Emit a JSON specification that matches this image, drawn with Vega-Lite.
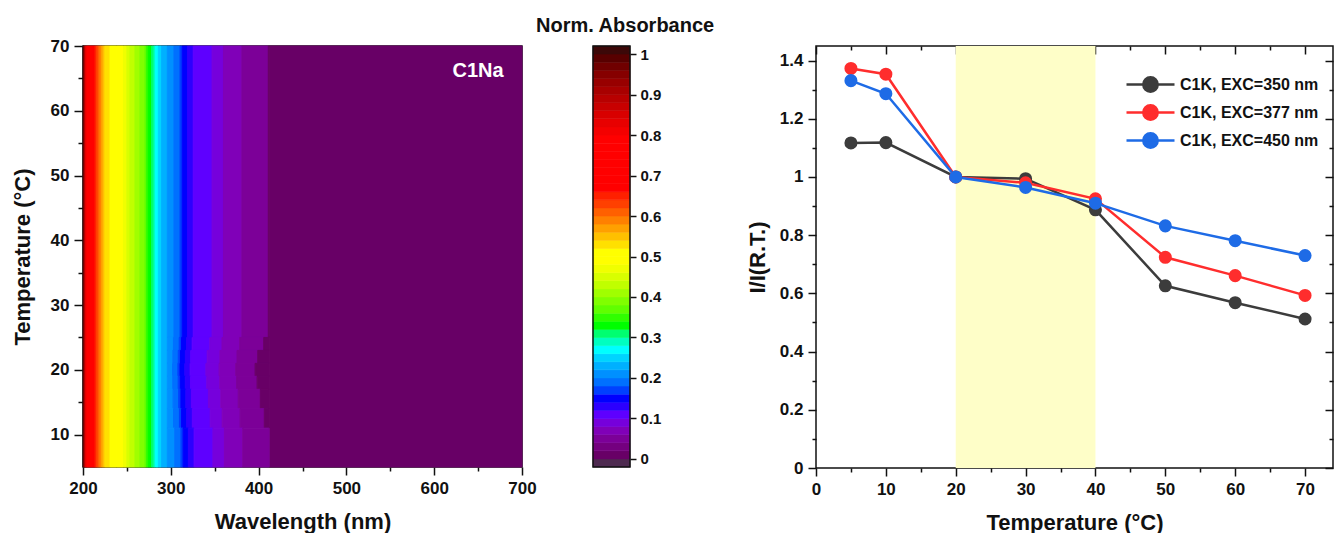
{
  "$schema": "https://vega.github.io/schema/vega-lite/v6.json",
  "padding": {"left": 10, "top": 16, "right": 0, "bottom": 0},
  "background": "white",
  "bounds": "flush",
  "spacing": 71,
  "resolve": {"scale": {"color": "independent"}, "legend": {"color": "independent"}},
  "config": {
    "font": "Liberation Sans",
    "view": {"stroke": "#111", "strokeWidth": 1.5},
    "axis": {
      "labelFont": "Liberation Sans", "labelFontWeight": "bold", "labelFontSize": 17, "labelColor": "#111", "labelFlush": false,
      "titleFont": "Liberation Sans", "titleFontWeight": "bold", "titleFontSize": 22, "titleColor": "#111",
      "tickColor": "#111", "tickWidth": 1.5, "domain": false, "grid": false, "labelPadding": 5
    }
  },
  "hconcat": [
    {
      "width": 439,
      "height": 421,
      "resolve": {"axis": {"x": "independent", "y": "independent"}},
      "layer": [
        {
          "data": {"values": [
            {"w":200,"w2":201,"t":5,"t2":70,"v":1.01},
            {"w":201,"w2":202,"t":5,"t2":70,"v":0.95},
            {"w":202,"w2":203,"t":5,"t2":70,"v":0.89},
            {"w":203,"w2":204.5,"t":5,"t2":70,"v":0.83},
            {"w":204.5,"w2":213.7,"t":5,"t2":70,"v":0.73},
            {"w":213.7,"w2":215.5,"t":5,"t2":70,"v":0.65},
            {"w":215.5,"w2":217.4,"t":5,"t2":70,"v":0.63},
            {"w":217.4,"w2":219.3,"t":5,"t2":70,"v":0.61},
            {"w":219.3,"w2":221.2,"t":5,"t2":70,"v":0.59},
            {"w":221.2,"w2":223,"t":5,"t2":70,"v":0.57},
            {"w":223,"w2":225,"t":5,"t2":70,"v":0.55},
            {"w":225,"w2":230.8,"t":5,"t2":70,"v":0.53},
            {"w":230.8,"w2":238,"t":5,"t2":70,"v":0.51},
            {"w":238,"w2":246,"t":5,"t2":70,"v":0.49},
            {"w":246,"w2":250,"t":5,"t2":70,"v":0.47},
            {"w":250,"w2":253.5,"t":5,"t2":70,"v":0.45},
            {"w":253.5,"w2":259.2,"t":5,"t2":70,"v":0.43},
            {"w":259.2,"w2":264.9,"t":5,"t2":70,"v":0.41},
            {"w":264.9,"w2":270.6,"t":5,"t2":70,"v":0.39},
            {"w":270.6,"w2":272.5,"t":5,"t2":70,"v":0.37},
            {"w":272.5,"w2":274.4,"t":5,"t2":70,"v":0.35},
            {"w":274.4,"w2":278.2,"t":5,"t2":70,"v":0.33},
            {"w":278.2,"w2":280.9,"t":5,"t2":70,"v":0.31},
            {"w":280.9,"w2":282.5,"t":5,"t2":70,"v":0.29},
            {"w":282.5,"w2":285.8,"t":5,"t2":70,"v":0.27},
            {"w":285.8,"w2":289.6,"t":5,"t2":70,"v":0.25},
            {"w":289.6,"w2":296,"t":5,"t2":70,"v":0.23},
            {"w":412,"w2":700,"t":5,"t2":70,"v":0.01},

            {"w":296,"w2":303.6,"t":25,"t2":70,"v":0.21},
            {"w":303.6,"w2":310.5,"t":25,"t2":70,"v":0.19},
            {"w":310.5,"w2":313,"t":25,"t2":70,"v":0.17},
            {"w":313,"w2":319,"t":25,"t2":70,"v":0.15},
            {"w":319,"w2":325.5,"t":25,"t2":70,"v":0.13},
            {"w":325.5,"w2":347,"t":25,"t2":70,"v":0.11},
            {"w":347,"w2":360,"t":25,"t2":70,"v":0.09},
            {"w":360,"w2":381,"t":25,"t2":70,"v":0.07},
            {"w":381,"w2":411,"t":25,"t2":70,"v":0.05},
            {"w":411,"w2":412,"t":25,"t2":70,"v":0.01},

            {"w":296,"w2":303,"t":23,"t2":25,"v":0.21},
            {"w":303,"w2":309.6,"t":23,"t2":25,"v":0.19},
            {"w":309.6,"w2":312.1,"t":23,"t2":25,"v":0.17},
            {"w":312.1,"w2":318,"t":23,"t2":25,"v":0.15},
            {"w":318,"w2":324.3,"t":23,"t2":25,"v":0.13},
            {"w":324.3,"w2":344.5,"t":23,"t2":25,"v":0.11},
            {"w":344.5,"w2":358.3,"t":23,"t2":25,"v":0.09},
            {"w":358.3,"w2":378.5,"t":23,"t2":25,"v":0.07},
            {"w":378.5,"w2":405.8,"t":23,"t2":25,"v":0.05},
            {"w":405.8,"w2":412,"t":23,"t2":25,"v":0.01},

            {"w":296,"w2":302.3,"t":21,"t2":23,"v":0.21},
            {"w":302.3,"w2":308.5,"t":21,"t2":23,"v":0.19},
            {"w":308.5,"w2":311,"t":21,"t2":23,"v":0.17},
            {"w":311,"w2":316.6,"t":21,"t2":23,"v":0.15},
            {"w":316.6,"w2":322.7,"t":21,"t2":23,"v":0.13},
            {"w":322.7,"w2":341.4,"t":21,"t2":23,"v":0.11},
            {"w":341.4,"w2":356,"t":21,"t2":23,"v":0.09},
            {"w":356,"w2":375.4,"t":21,"t2":23,"v":0.07},
            {"w":375.4,"w2":399,"t":21,"t2":23,"v":0.05},
            {"w":399,"w2":412,"t":21,"t2":23,"v":0.01},

            {"w":296,"w2":302,"t":19,"t2":21,"v":0.21},
            {"w":302,"w2":308,"t":19,"t2":21,"v":0.19},
            {"w":308,"w2":310.5,"t":19,"t2":21,"v":0.17},
            {"w":310.5,"w2":316,"t":19,"t2":21,"v":0.15},
            {"w":316,"w2":322,"t":19,"t2":21,"v":0.13},
            {"w":322,"w2":340,"t":19,"t2":21,"v":0.11},
            {"w":340,"w2":355,"t":19,"t2":21,"v":0.09},
            {"w":355,"w2":374,"t":19,"t2":21,"v":0.07},
            {"w":374,"w2":396,"t":19,"t2":21,"v":0.05},
            {"w":396,"w2":412,"t":19,"t2":21,"v":0.01},

            {"w":296,"w2":302.2,"t":17,"t2":19,"v":0.21},
            {"w":302.2,"w2":308.4,"t":17,"t2":19,"v":0.19},
            {"w":308.4,"w2":310.9,"t":17,"t2":19,"v":0.17},
            {"w":310.9,"w2":316.5,"t":17,"t2":19,"v":0.15},
            {"w":316.5,"w2":322.5,"t":17,"t2":19,"v":0.13},
            {"w":322.5,"w2":341,"t":17,"t2":19,"v":0.11},
            {"w":341,"w2":355.8,"t":17,"t2":19,"v":0.09},
            {"w":355.8,"w2":375,"t":17,"t2":19,"v":0.07},
            {"w":375,"w2":398.3,"t":17,"t2":19,"v":0.05},
            {"w":398.3,"w2":412,"t":17,"t2":19,"v":0.01},

            {"w":296,"w2":302.6,"t":14,"t2":17,"v":0.21},
            {"w":302.6,"w2":309,"t":14,"t2":17,"v":0.19},
            {"w":309,"w2":311.5,"t":14,"t2":17,"v":0.17},
            {"w":311.5,"w2":317.2,"t":14,"t2":17,"v":0.15},
            {"w":317.2,"w2":323.4,"t":14,"t2":17,"v":0.13},
            {"w":323.4,"w2":342.8,"t":14,"t2":17,"v":0.11},
            {"w":342.8,"w2":357,"t":14,"t2":17,"v":0.09},
            {"w":357,"w2":376.8,"t":14,"t2":17,"v":0.07},
            {"w":376.8,"w2":402,"t":14,"t2":17,"v":0.05},
            {"w":402,"w2":412,"t":14,"t2":17,"v":0.01},

            {"w":296,"w2":303.1,"t":11,"t2":14,"v":0.21},
            {"w":303.1,"w2":309.8,"t":11,"t2":14,"v":0.19},
            {"w":309.8,"w2":312.3,"t":11,"t2":14,"v":0.17},
            {"w":312.3,"w2":318.1,"t":11,"t2":14,"v":0.15},
            {"w":318.1,"w2":324.5,"t":11,"t2":14,"v":0.13},
            {"w":324.5,"w2":344.9,"t":11,"t2":14,"v":0.11},
            {"w":344.9,"w2":358.5,"t":11,"t2":14,"v":0.09},
            {"w":358.5,"w2":378.9,"t":11,"t2":14,"v":0.07},
            {"w":378.9,"w2":406.5,"t":11,"t2":14,"v":0.05},
            {"w":406.5,"w2":412,"t":11,"t2":14,"v":0.01},

            {"w":296,"w2":304.5,"t":5,"t2":11,"v":0.21},
            {"w":304.5,"w2":311.5,"t":5,"t2":11,"v":0.19},
            {"w":311.5,"w2":314,"t":5,"t2":11,"v":0.17},
            {"w":314,"w2":320,"t":5,"t2":11,"v":0.15},
            {"w":320,"w2":326.5,"t":5,"t2":11,"v":0.13},
            {"w":326.5,"w2":348,"t":5,"t2":11,"v":0.11},
            {"w":348,"w2":361,"t":5,"t2":11,"v":0.09},
            {"w":361,"w2":382,"t":5,"t2":11,"v":0.07},
            {"w":382,"w2":412,"t":5,"t2":11,"v":0.05}
          ]},
          "mark": {"type": "rect", "strokeWidth": 1},
          "encoding": {
            "x": {"field": "w", "type": "quantitative",
              "scale": {"domain": [200, 700], "nice": false, "zero": false},
              "axis": {"values": [200,250,300,350,400,450,500,550,600,650,700],
                "labelExpr": "datum.value % 100 === 0 ? datum.label : ''",
                "tickSize": {"condition": {"test": "datum.value % 100 === 0", "value": 8}, "value": 4},
                "title": "Wavelength (nm)", "titlePadding": 15}},
            "x2": {"field": "w2"},
            "y": {"field": "t", "type": "quantitative",
              "scale": {"domain": [5, 70], "nice": false, "zero": false},
              "axis": {"values": [10,15,20,25,30,35,40,45,50,55,60,65,70],
                "labelExpr": "datum.value % 10 === 0 ? datum.label : ''",
                "tickSize": {"condition": {"test": "datum.value % 10 === 0", "value": 9}, "value": 5},
                "title": "Temperature (°C)", "titlePadding": 16}},
            "y2": {"field": "t2"},
            "fill": {"field": "v", "type": "quantitative", "legend": null,
              "scale": {"type": "threshold",
                "domain": [0,0.02,0.04,0.06,0.08,0.1,0.12,0.14,0.16,0.18,0.2,0.22,0.24,0.26,0.28,0.3,0.32,0.34,0.36,0.38,0.4,0.42,0.44,0.46,0.48,0.5,0.52,0.54,0.56,0.58,0.6,0.62,0.64,0.66,0.68,0.7,0.72,0.74,0.76,0.78,0.8,0.82,0.84,0.86,0.88,0.9,0.92,0.94,0.96,0.98,1],
                "range": ["#4e2a50","#680066","#74007f","#7c0098","#8000b8","#7600dc","#5e00ff","#2c00ff","#0000ff","#0040ff","#0070ff","#0090ff","#00b0ff","#00d4ff","#00ffff","#00ffc0","#00ff70","#00ff00","#30ff00","#60ff00","#80ff00","#a0ff00","#c0ff00","#d8ff00","#f0ff00","#ffff00","#ffff00","#ffe000","#ffc000","#ffa000","#ff8000","#ff6000","#ff4000","#ff2000","#ff0000","#ff0000","#ff0000","#ff0000","#ff0000","#ff0000","#ff0000","#f40000","#e80000","#d80000","#c80000","#b80000","#a80000","#980000","#860000","#700000","#580000","#3c0808"]}},
            "stroke": {"field": "v", "type": "quantitative", "legend": null,
              "scale": {"type": "threshold",
                "domain": [0,0.02,0.04,0.06,0.08,0.1,0.12,0.14,0.16,0.18,0.2,0.22,0.24,0.26,0.28,0.3,0.32,0.34,0.36,0.38,0.4,0.42,0.44,0.46,0.48,0.5,0.52,0.54,0.56,0.58,0.6,0.62,0.64,0.66,0.68,0.7,0.72,0.74,0.76,0.78,0.8,0.82,0.84,0.86,0.88,0.9,0.92,0.94,0.96,0.98,1],
                "range": ["#4e2a50","#680066","#74007f","#7c0098","#8000b8","#7600dc","#5e00ff","#2c00ff","#0000ff","#0040ff","#0070ff","#0090ff","#00b0ff","#00d4ff","#00ffff","#00ffc0","#00ff70","#00ff00","#30ff00","#60ff00","#80ff00","#a0ff00","#c0ff00","#d8ff00","#f0ff00","#ffff00","#ffff00","#ffe000","#ffc000","#ffa000","#ff8000","#ff6000","#ff4000","#ff2000","#ff0000","#ff0000","#ff0000","#ff0000","#ff0000","#ff0000","#ff0000","#f40000","#e80000","#d80000","#c80000","#b80000","#a80000","#980000","#860000","#700000","#580000","#3c0808"]}}
          }
        },
        {
          "data": {"values": [{"label": "C1Na"}]},
          "mark": {"type": "text", "fontSize": 20, "fontWeight": "bold", "font": "Liberation Sans", "color": "white", "align": "center", "baseline": "middle"},
          "encoding": {
            "x": {"datum": 650, "type": "quantitative", "axis": null},
            "y": {"datum": 66.2, "type": "quantitative", "axis": null},
            "text": {"field": "label"}
          }
        }
      ]
    },
    {
      "width": 152,
      "height": 421,
      "view": {"stroke": null},
      "resolve": {"axis": {"x": "independent", "y": "independent"}},
      "title": {"text": "Norm. Absorbance", "fontSize": 20, "font": "Liberation Sans", "fontWeight": "bold", "color": "#111", "offset": 9, "dx": -57, "anchor": "start", "frame": "group"},
      "layer": [
        {
          "data": {"values": [
            {"lo":-0.02,"hi":0,"v":-0.01},{"lo":0,"hi":0.02,"v":0.01},{"lo":0.02,"hi":0.04,"v":0.03},{"lo":0.04,"hi":0.06,"v":0.05},
            {"lo":0.06,"hi":0.08,"v":0.07},{"lo":0.08,"hi":0.1,"v":0.09},{"lo":0.1,"hi":0.12,"v":0.11},{"lo":0.12,"hi":0.14,"v":0.13},
            {"lo":0.14,"hi":0.16,"v":0.15},{"lo":0.16,"hi":0.18,"v":0.17},{"lo":0.18,"hi":0.2,"v":0.19},{"lo":0.2,"hi":0.22,"v":0.21},
            {"lo":0.22,"hi":0.24,"v":0.23},{"lo":0.24,"hi":0.26,"v":0.25},{"lo":0.26,"hi":0.28,"v":0.27},{"lo":0.28,"hi":0.3,"v":0.29},
            {"lo":0.3,"hi":0.32,"v":0.31},{"lo":0.32,"hi":0.34,"v":0.33},{"lo":0.34,"hi":0.36,"v":0.35},{"lo":0.36,"hi":0.38,"v":0.37},
            {"lo":0.38,"hi":0.4,"v":0.39},{"lo":0.4,"hi":0.42,"v":0.41},{"lo":0.42,"hi":0.44,"v":0.43},{"lo":0.44,"hi":0.46,"v":0.45},
            {"lo":0.46,"hi":0.48,"v":0.47},{"lo":0.48,"hi":0.5,"v":0.49},{"lo":0.5,"hi":0.52,"v":0.51},{"lo":0.52,"hi":0.54,"v":0.53},
            {"lo":0.54,"hi":0.56,"v":0.55},{"lo":0.56,"hi":0.58,"v":0.57},{"lo":0.58,"hi":0.6,"v":0.59},{"lo":0.6,"hi":0.62,"v":0.61},
            {"lo":0.62,"hi":0.64,"v":0.63},{"lo":0.64,"hi":0.66,"v":0.65},{"lo":0.66,"hi":0.68,"v":0.67},{"lo":0.68,"hi":0.7,"v":0.69},
            {"lo":0.7,"hi":0.72,"v":0.71},{"lo":0.72,"hi":0.74,"v":0.73},{"lo":0.74,"hi":0.76,"v":0.75},{"lo":0.76,"hi":0.78,"v":0.77},
            {"lo":0.78,"hi":0.8,"v":0.79},{"lo":0.8,"hi":0.82,"v":0.81},{"lo":0.82,"hi":0.84,"v":0.83},{"lo":0.84,"hi":0.86,"v":0.85},
            {"lo":0.86,"hi":0.88,"v":0.87},{"lo":0.88,"hi":0.9,"v":0.89},{"lo":0.9,"hi":0.92,"v":0.91},{"lo":0.92,"hi":0.94,"v":0.93},
            {"lo":0.94,"hi":0.96,"v":0.95},{"lo":0.96,"hi":0.98,"v":0.97},{"lo":0.98,"hi":1,"v":0.99},{"lo":1,"hi":1.02,"v":1.01}
          ]},
          "mark": {"type": "rect", "strokeWidth": 0.6},
          "encoding": {
            "x": {"datum": 0, "type": "quantitative", "scale": {"domain": [0, 4.108], "nice": false, "zero": false}, "axis": null},
            "x2": {"datum": 1},
            "y": {"field": "lo", "type": "quantitative",
              "scale": {"domain": [-0.02, 1.02], "nice": false, "zero": false},
              "axis": {"orient": "right", "offset": -115, "values": [0,0.1,0.2,0.3,0.4,0.5,0.6,0.7,0.8,0.9,1], "format": "~g", "tickSize": 6, "labelFontSize": 15, "labelPadding": 4, "title": null}},
            "y2": {"field": "hi"},
            "fill": {"field": "v", "type": "quantitative", "legend": null,
              "scale": {"type": "threshold",
                "domain": [0,0.02,0.04,0.06,0.08,0.1,0.12,0.14,0.16,0.18,0.2,0.22,0.24,0.26,0.28,0.3,0.32,0.34,0.36,0.38,0.4,0.42,0.44,0.46,0.48,0.5,0.52,0.54,0.56,0.58,0.6,0.62,0.64,0.66,0.68,0.7,0.72,0.74,0.76,0.78,0.8,0.82,0.84,0.86,0.88,0.9,0.92,0.94,0.96,0.98,1],
                "range": ["#4e2a50","#680066","#74007f","#7c0098","#8000b8","#7600dc","#5e00ff","#2c00ff","#0000ff","#0040ff","#0070ff","#0090ff","#00b0ff","#00d4ff","#00ffff","#00ffc0","#00ff70","#00ff00","#30ff00","#60ff00","#80ff00","#a0ff00","#c0ff00","#d8ff00","#f0ff00","#ffff00","#ffff00","#ffe000","#ffc000","#ffa000","#ff8000","#ff6000","#ff4000","#ff2000","#ff0000","#ff0000","#ff0000","#ff0000","#ff0000","#ff0000","#ff0000","#f40000","#e80000","#d80000","#c80000","#b80000","#a80000","#980000","#860000","#700000","#580000","#3c0808"]}},
            "stroke": {"field": "v", "type": "quantitative", "legend": null,
              "scale": {"type": "threshold",
                "domain": [0,0.02,0.04,0.06,0.08,0.1,0.12,0.14,0.16,0.18,0.2,0.22,0.24,0.26,0.28,0.3,0.32,0.34,0.36,0.38,0.4,0.42,0.44,0.46,0.48,0.5,0.52,0.54,0.56,0.58,0.6,0.62,0.64,0.66,0.68,0.7,0.72,0.74,0.76,0.78,0.8,0.82,0.84,0.86,0.88,0.9,0.92,0.94,0.96,0.98,1],
                "range": ["#4e2a50","#680066","#74007f","#7c0098","#8000b8","#7600dc","#5e00ff","#2c00ff","#0000ff","#0040ff","#0070ff","#0090ff","#00b0ff","#00d4ff","#00ffff","#00ffc0","#00ff70","#00ff00","#30ff00","#60ff00","#80ff00","#a0ff00","#c0ff00","#d8ff00","#f0ff00","#ffff00","#ffff00","#ffe000","#ffc000","#ffa000","#ff8000","#ff6000","#ff4000","#ff2000","#ff0000","#ff0000","#ff0000","#ff0000","#ff0000","#ff0000","#ff0000","#f40000","#e80000","#d80000","#c80000","#b80000","#a80000","#980000","#860000","#700000","#580000","#3c0808"]}}
          }
        },
        {
          "data": {"values": [{"box": "frame"}]},
          "mark": {"type": "rect", "fill": null, "fillOpacity": 0, "stroke": "#111", "strokeWidth": 1.5},
          "encoding": {
            "x": {"datum": 0, "type": "quantitative", "axis": null},
            "x2": {"datum": 1},
            "y": {"datum": -0.02, "type": "quantitative", "axis": null},
            "y2": {"datum": 1.02}
          }
        }
      ]
    },
    {
      "width": 517,
      "height": 422,
      "data": {"values": [
        {"series":"C1K, EXC=350 nm","T":5,"r":1.117},{"series":"C1K, EXC=350 nm","T":10,"r":1.118},{"series":"C1K, EXC=350 nm","T":20,"r":1.0},{"series":"C1K, EXC=350 nm","T":30,"r":0.994},
        {"series":"C1K, EXC=350 nm","T":40,"r":0.887},{"series":"C1K, EXC=350 nm","T":50,"r":0.626},{"series":"C1K, EXC=350 nm","T":60,"r":0.568},{"series":"C1K, EXC=350 nm","T":70,"r":0.512},
        {"series":"C1K, EXC=377 nm","T":5,"r":1.373},{"series":"C1K, EXC=377 nm","T":10,"r":1.353},{"series":"C1K, EXC=377 nm","T":20,"r":1.0},{"series":"C1K, EXC=377 nm","T":30,"r":0.98},
        {"series":"C1K, EXC=377 nm","T":40,"r":0.925},{"series":"C1K, EXC=377 nm","T":50,"r":0.724},{"series":"C1K, EXC=377 nm","T":60,"r":0.661},{"series":"C1K, EXC=377 nm","T":70,"r":0.593},
        {"series":"C1K, EXC=450 nm","T":5,"r":1.331},{"series":"C1K, EXC=450 nm","T":10,"r":1.286},{"series":"C1K, EXC=450 nm","T":20,"r":1.0},{"series":"C1K, EXC=450 nm","T":30,"r":0.964},
        {"series":"C1K, EXC=450 nm","T":40,"r":0.91},{"series":"C1K, EXC=450 nm","T":50,"r":0.832},{"series":"C1K, EXC=450 nm","T":60,"r":0.781},{"series":"C1K, EXC=450 nm","T":70,"r":0.73}
      ]},
      "layer": [
        {
          "data": {"values": [{"from": 20, "to": 40}]},
          "mark": {"type": "rect", "color": "#fefec8"},
          "encoding": {
            "x": {"field": "from", "type": "quantitative",
              "scale": {"domain": [0, 74], "nice": false, "zero": false},
              "axis": {"orient": "bottom", "values": [0,5,10,15,20,25,30,35,40,45,50,55,60,65,70],
                "labelExpr": "datum.value % 10 === 0 ? datum.label : ''",
                "tickSize": {"condition": {"test": "datum.value % 10 === 0", "value": 8}, "value": 4},
                "title": "Temperature (°C)", "titlePadding": 15}},
            "x2": {"field": "to"}
          }
        },
        {
          "mark": {"type": "line", "strokeWidth": 2.5},
          "encoding": {
            "x": {"field": "T", "type": "quantitative",
              "scale": {"domain": [0, 74], "nice": false, "zero": false},
              "axis": {"orient": "top", "values": [0,5,10,15,20,25,30,35,40,45,50,55,60,65,70], "labels": false, "title": null,
                "tickSize": {"condition": {"test": "datum.value % 10 === 0", "value": -8}, "value": -4}}},
            "y": {"field": "r", "type": "quantitative",
              "scale": {"domain": [0, 1.45], "nice": false, "zero": false},
              "axis": {"orient": "left", "values": [0,0.1,0.2,0.3,0.4,0.5,0.6,0.7,0.8,0.9,1,1.1,1.2,1.3,1.4], "format": "~g",
                "labelExpr": "round(datum.value * 10) % 2 === 0 ? datum.label : ''",
                "tickSize": {"condition": {"test": "round(datum.value * 10) % 2 === 0", "value": 8}, "value": 4},
                "title": "I/I(R.T.)", "titlePadding": 10}},
            "color": {"field": "series", "type": "nominal",
              "scale": {"domain": ["C1K, EXC=350 nm", "C1K, EXC=377 nm", "C1K, EXC=450 nm"], "range": ["#3c3c3c", "#ff2d2d", "#1e6be6"]},
              "legend": {"orient": "top-right", "title": " ", "titleFontSize": 9, "titlePadding": 2, "offset": 14,
                "labelFont": "Liberation Sans", "labelFontSize": 16, "labelFontWeight": "bold", "labelColor": "#111",
                "symbolType": "M-2,0H2M0.6,0A0.6,0.6,0,1,1,-0.6,0A0.6,0.6,0,1,1,0.6,0Z",
                "symbolSize": 576, "symbolStrokeWidth": 2.5, "labelOffset": 16, "rowPadding": 2,
                "encode": {"symbols": {"update": {"fill": {"scale": "color", "field": "value"}, "stroke": {"scale": "color", "field": "value"}, "opacity": {"value": 1}}}}}}
          }
        },
        {
          "mark": {"type": "point", "filled": true, "size": 170, "opacity": 1},
          "encoding": {
            "x": {"field": "T", "type": "quantitative", "scale": {"domain": [0, 74], "nice": false, "zero": false}, "axis": null},
            "y": {"field": "r", "type": "quantitative",
              "scale": {"domain": [0, 1.45], "nice": false, "zero": false},
              "axis": {"orient": "right", "values": [0,0.1,0.2,0.3,0.4,0.5,0.6,0.7,0.8,0.9,1,1.1,1.2,1.3,1.4], "labels": false, "title": null,
                "tickSize": {"condition": {"test": "round(datum.value * 10) % 2 === 0", "value": -8}, "value": -4}}},
            "color": {"field": "series", "type": "nominal",
              "scale": {"domain": ["C1K, EXC=350 nm", "C1K, EXC=377 nm", "C1K, EXC=450 nm"], "range": ["#3c3c3c", "#ff2d2d", "#1e6be6"]},
              "legend": null}
          }
        }
      ],
      "resolve": {"axis": {"x": "independent", "y": "independent"}}
    }
  ]
}
